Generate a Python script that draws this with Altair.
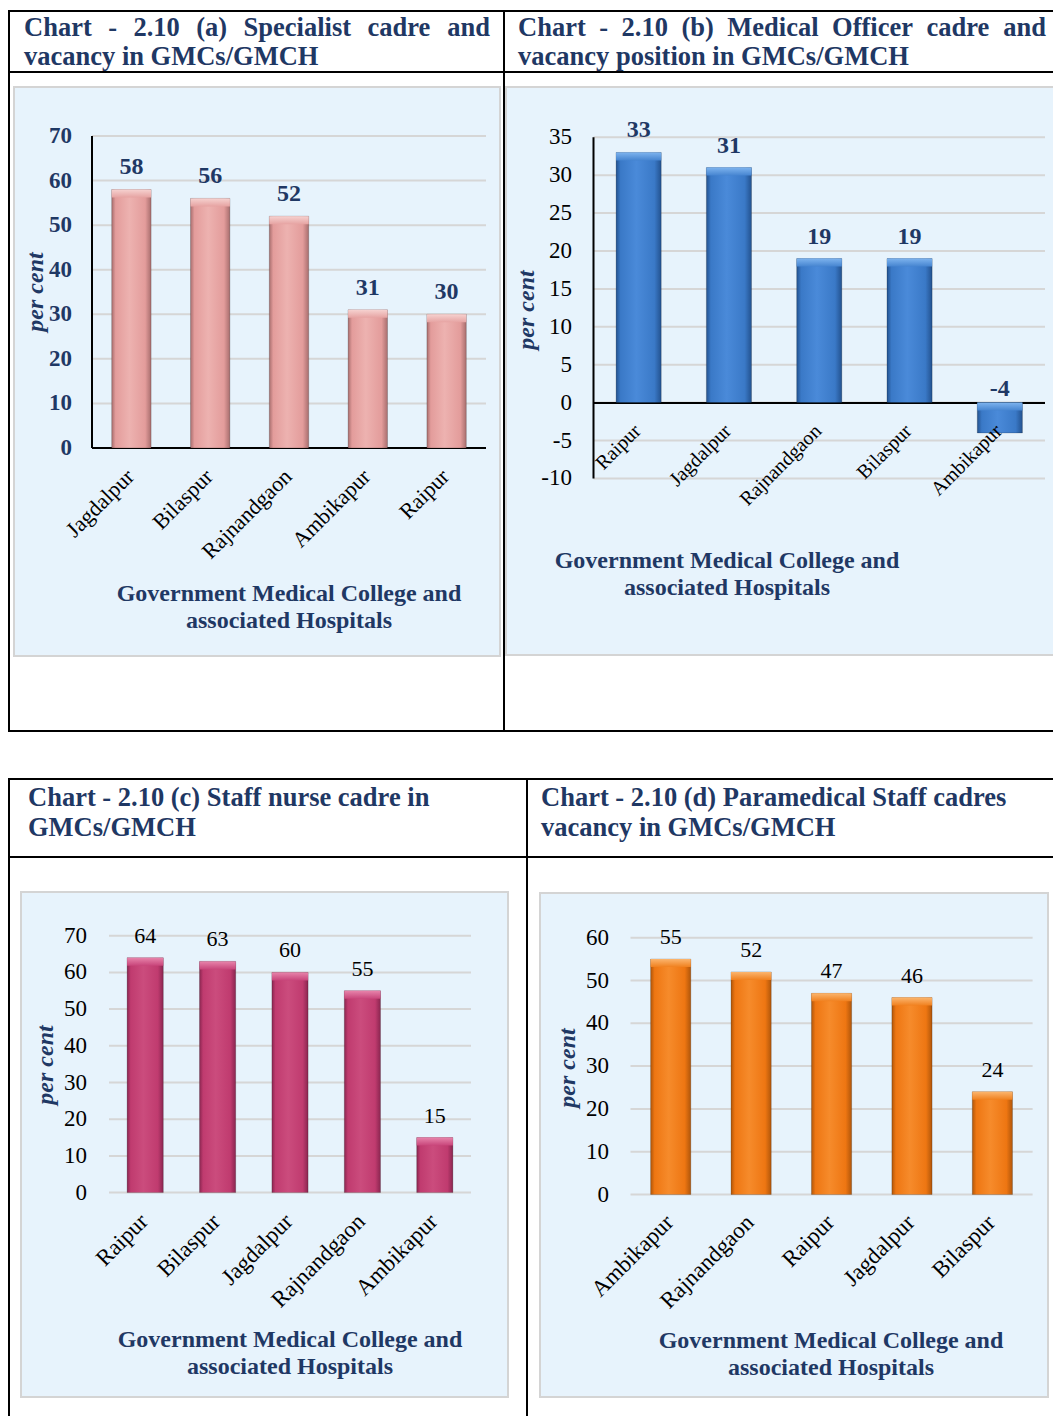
import altair as alt
import pandas as pd

SERIF = "Liberation Serif"
NAVY = "#1F3864"

# ---------------- data ----------------
a_cats = ["Jagdalpur", "Bilaspur", "Rajnandgaon", "Ambikapur", "Raipur"]
a_vals = [58, 56, 52, 31, 30]
a_ticks = [0, 10, 20, 30, 40, 50, 60, 70]

b_cats = ["Raipur", "Jagdalpur", "Rajnandgaon", "Bilaspur", "Ambikapur"]
b_vals = [33, 31, 19, 19, -4]
b_ticks = [-10, -5, 0, 5, 10, 15, 20, 25, 30, 35]

c_cats = ["Raipur", "Bilaspur", "Jagdalpur", "Rajnandgaon", "Ambikapur"]
c_vals = [64, 63, 60, 55, 15]
c_ticks = [0, 10, 20, 30, 40, 50, 60, 70]

d_cats = ["Ambikapur", "Rajnandgaon", "Raipur", "Jagdalpur", "Bilaspur"]
d_vals = [55, 52, 47, 46, 24]
d_ticks = [0, 10, 20, 30, 40, 50, 60]

title_a = ["Chart - 2.10 (a) Specialist cadre and", "vacancy in GMCs/GMCH"]
title_b = ["Chart - 2.10 (b) Medical Officer cadre and", "vacancy position in GMCs/GMCH"]
title_c = ["Chart - 2.10 (c) Staff nurse cadre in", "GMCs/GMCH"]
title_d = ["Chart - 2.10 (d) Paramedical Staff cadres", "vacancy in GMCs/GMCH"]
x_title_lines = ["Government Medical College and", "associated Hospitals"]
y_title = "per cent"

one = pd.DataFrame({"k": [0]})

# Times-Bold advance widths (per 1000 em) used only to justify the first title lines
TB = {" ": 250, "-": 333, ".": 250, "(": 333, ")": 333, "/": 278, "A": 722, "C": 722, "G": 778,
      "H": 778, "M": 944, "O": 778, "S": 556, "a": 500, "b": 556, "c": 444, "d": 556, "e": 444,
      "f": 333, "g": 500, "h": 556, "i": 278, "l": 278, "m": 833, "n": 556, "o": 500, "p": 556,
      "r": 444, "s": 389, "t": 333, "u": 556, "v": 500, "y": 500}


def tw(word, size):
    return sum(TB.get(ch, 500) for ch in word) * size / 1000.0


def justify(line, x0, x1, size):
    words = line.split(" ")
    widths = [tw(w, size) for w in words]
    gap = (x1 - x0 - sum(widths)) / (len(words) - 1)
    out, x = [], x0
    for w, wd in zip(words, widths):
        out.append((w, x))
        x += wd + gap
    return out


def grad(dark, base, light):
    return alt.Gradient(
        gradient="linear", x1=0, y1=0, x2=1, y2=0,
        stops=[
            alt.GradientStop(color=dark, offset=0),
            alt.GradientStop(color=base, offset=0.1),
            alt.GradientStop(color=light, offset=0.45),
            alt.GradientStop(color=base, offset=0.85),
            alt.GradientStop(color=dark, offset=1),
        ],
    )


def vgrad(light, base):
    return alt.Gradient(
        gradient="linear", x1=0, y1=0, x2=0, y2=1,
        stops=[alt.GradientStop(color=light, offset=0), alt.GradientStop(color=base, offset=1)],
    )


def rule(x1, y1, x2, y2, color="black", w=2):
    return alt.Chart(one).mark_rule(color=color, strokeWidth=w).encode(
        x=alt.value(x1), x2=alt.value(x2), y=alt.value(y1), y2=alt.value(y2))


def box(x1, y1, x2, y2):
    return alt.Chart(one).mark_rect(fill="#E7F3FC", stroke="#D4D4D4", strokeWidth=2).encode(
        x=alt.value(x1), x2=alt.value(x2), y=alt.value(y1), y2=alt.value(y2))


def panel(cats, vals, ticks, x0, x1, ybot, ytop, dom, fill, bevel, tick_font, val_font,
          xlab_size, label_right, axis_y, ytitle_x, ytitle_y, xt_x, xt_y, black_axes):
    df = pd.DataFrame({"cat": cats, "val": vals, "base": [0] * len(vals),
                       "top": [max(v, 0) for v in vals], "lab": [str(v) for v in vals]})
    tdf = pd.DataFrame({"t": ticks, "tl": [str(t) for t in ticks]})
    xs = alt.Scale(domain=cats, range=[x0, x1], paddingInner=0.5, paddingOuter=0.25)
    ys = alt.Scale(domain=dom, range=[ybot, ytop], nice=False, zero=False)
    X = alt.X("cat:N", scale=xs, sort=cats, axis=None)
    L = []
    L.append(alt.Chart(tdf).mark_rule(color="#D6D6D6", strokeWidth=2).encode(
        y=alt.Y("t:Q", scale=ys, axis=None), x=alt.value(x0), x2=alt.value(x1)))
    L.append(alt.Chart(tdf).mark_text(align="right", baseline="middle", font=SERIF, **tick_font).encode(
        y=alt.Y("t:Q", scale=ys, axis=None), x=alt.value(label_right), text="tl:N"))
    if black_axes:
        L.append(rule(x0, ytop, x0, ybot))
        L.append(rule(x0, axis_y, x1, axis_y))
    L.append(alt.Chart(df).mark_bar(color=fill, stroke="#00000030", strokeWidth=1).encode(
        x=X, y=alt.Y("val:Q", scale=ys, axis=None), y2="base:Q"))
    L.append(alt.Chart(df).mark_bar(color=bevel, y2Offset=8).encode(
        x=X, y=alt.Y("top:Q", scale=ys, axis=None), y2="top:Q"))
    L.append(alt.Chart(df).transform_filter("datum.val >= 0").mark_text(
        baseline="alphabetic", dy=-15, font=SERIF, **val_font).encode(
        x=X, y=alt.Y("val:Q", scale=ys, axis=None), text="lab:N"))
    if min(vals) < 0:
        L.append(alt.Chart(df).transform_filter("datum.val < 0").mark_text(
            baseline="alphabetic", dy=-7, font=SERIF, **val_font).encode(
            x=X, y=alt.Y("base:Q", scale=ys, axis=None), text="lab:N"))
    L.append(alt.Chart(df).mark_text(angle=315, align="right", baseline="middle", font=SERIF,
                                     fontSize=xlab_size, color="black", xOffset=-1).encode(
        x=X, y=alt.value(axis_y + 25), text="cat:N"))
    L.append(alt.Chart(one).mark_text(angle=270, align="center", baseline="middle", font=SERIF,
                                      fontSize=24, fontWeight="bold", fontStyle="italic", color=NAVY).encode(
        x=alt.value(ytitle_x), y=alt.value(ytitle_y), text=alt.value(y_title)))
    for i, line in enumerate(x_title_lines):
        L.append(alt.Chart(one).mark_text(align="center", baseline="middle", font=SERIF,
                                          fontSize=24, fontWeight="bold", color=NAVY).encode(
            x=alt.value(xt_x), y=alt.value(xt_y + 27 * i), text=alt.value(line)))
    return L


layers = []
# table borders
layers += [
    rule(9, 11, 1053, 11), rule(9, 72, 1053, 72), rule(9, 731, 1053, 731),
    rule(9, 10, 9, 732), rule(504, 11, 504, 731),
    rule(9, 779, 1053, 779), rule(9, 857, 1053, 857),
    rule(9, 778, 9, 1416), rule(527, 779, 527, 1416),
]
# panel backgrounds
layers += [box(14, 87, 500, 656), box(506, 87, 1062, 655), box(21, 892, 508, 1397), box(540, 893, 1048, 1397)]

# titles
TS = 26.5
words = [(w, x, 36) for w, x in justify(title_a[0], 24, 490, TS)]
words += [(title_a[1], 24, 65)]
words += [(w, x, 36) for w, x in justify(title_b[0], 518, 1046, TS)]
words += [(title_b[1], 518, 65)]
words += [(title_c[0], 28, 806), (title_c[1], 28, 836), (title_d[0], 541, 806), (title_d[1], 541, 836)]
twdf = pd.DataFrame(words, columns=["text", "x", "y"])
layers.append(alt.Chart(twdf).mark_text(align="left", baseline="alphabetic", font=SERIF, fontSize=TS,
                                        fontWeight="bold", color=NAVY).encode(
    x=alt.X("x:Q", scale=None), y=alt.Y("y:Q", scale=None), text="text:N"))

bold_navy_t = {"fontSize": 23, "fontWeight": "bold", "color": NAVY}
bold_navy_v = {"fontSize": 24, "fontWeight": "bold", "color": NAVY}
plain = {"fontSize": 23, "color": "black"}

layers += panel(a_cats, a_vals, a_ticks, 92, 486, 448, 136, [0, 70],
                grad("#A86E6E", "#E39C9B", "#EDB2B0"), vgrad("#F6D2D0", "#E6A3A2"),
                bold_navy_t, bold_navy_v, 22, 72, 448, 36, 292, 289, 594, True)
layers += panel(b_cats, b_vals, b_ticks, 593.5, 1045, 478.4, 137.3, [-10, 35],
                grad("#23528F", "#3A79C7", "#4A8AD9"), vgrad("#7DB3EE", "#4584D0"),
                plain, bold_navy_v, 20, 572, 403, 527, 310, 727, 561, True)
layers += panel(c_cats, c_vals, c_ticks, 109, 471, 1192.6, 935.7, [0, 70],
                grad("#8A2650", "#C03B6F", "#CB4C7D"), vgrad("#E784AB", "#C8457A"),
                plain, {"fontSize": 22, "color": "black"}, 23, 87, 1193, 46, 1065, 290, 1340, False)
layers += panel(d_cats, d_vals, d_ticks, 630.5, 1032.6, 1194.5, 937.7, [0, 60],
                grad("#B0560A", "#EE7612", "#F68B2B"), vgrad("#FBB56E", "#F0801E"),
                plain, {"fontSize": 22, "color": "black"}, 23, 609, 1194, 568, 1068, 831, 1341, False)

chart = alt.layer(*layers).resolve_scale(x="independent", y="independent").properties(
    width=1053, height=1416, padding=0, autosize="none", background="white"
).configure_view(stroke=None)

chart.save("out.html", embed_options={"renderer": "svg", "actions": False})
